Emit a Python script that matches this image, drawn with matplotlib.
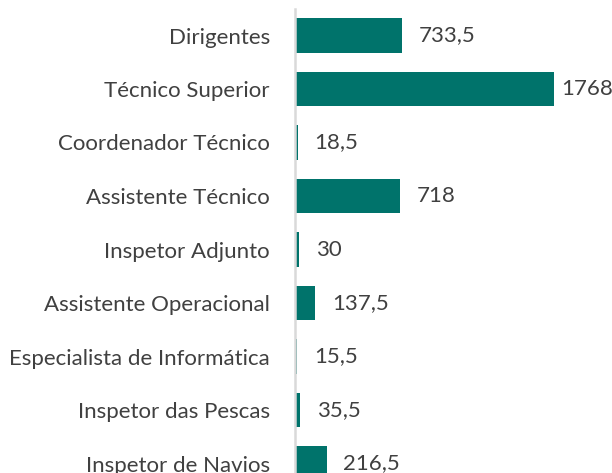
import matplotlib
matplotlib.use("Agg")
import matplotlib.pyplot as plt

categories = ["Dirigentes", "Técnico Superior", "Coordenador Técnico", "Assistente Técnico",
              "Inspetor Adjunto", "Assistente Operacional", "Especialista de Informática",
              "Inspetor das Pescas", "Inspetor de Navios"]
values = [733.5, 1768, 18.5, 718, 30, 137.5, 15.5, 35.5, 216.5]

def fmt(v):
    s = f"{v:.1f}".rstrip("0").rstrip(".")
    return s.replace(".", ",")

plt.rcParams['font.family'] = ['Lato', 'DejaVu Sans']
fs = 16.0
txt = "#404040"
bar_color = "#00736B"

fig = plt.figure(figsize=(6.12, 4.73), dpi=100)
H = 473.0
ax = fig.add_axes([295/612, 0, (588-295)/612, 1 - 8.75/H])

ypos = list(range(len(categories)))
ax.barh(ypos, values, height=0.65, color=bar_color)
ax.set_ylim((H - 35.5) / 53.5, -0.5)
ax.set_xlim(0, 293 / 0.1465)

ax.set_yticks(ypos)
ax.set_yticklabels(categories, fontsize=fs, color=txt)
ax.tick_params(axis='y', length=0, pad=18)
ax.set_xticks([])
for s in ["top", "right", "bottom"]:
    ax.spines[s].set_visible(False)
ax.spines["left"].set_color("#d9d9d9")
ax.spines["left"].set_linewidth(1.8)

fig.canvas.draw()
renderer = fig.canvas.get_renderer()
for y, v in zip(ypos, values):
    t = ax.annotate(fmt(v), (v, y), xytext=(12, 0), textcoords="offset points",
                    ha="left", va="center", fontsize=fs, color=txt, annotation_clip=False)
    bb = t.get_window_extent(renderer)
    if bb.x1 > 608:
        shift_pt = (bb.x1 - 608) * 72 / fig.dpi
        t.set_position((max(12 - shift_pt, 5.0), 0))

fig.savefig("out.png", dpi=100)
